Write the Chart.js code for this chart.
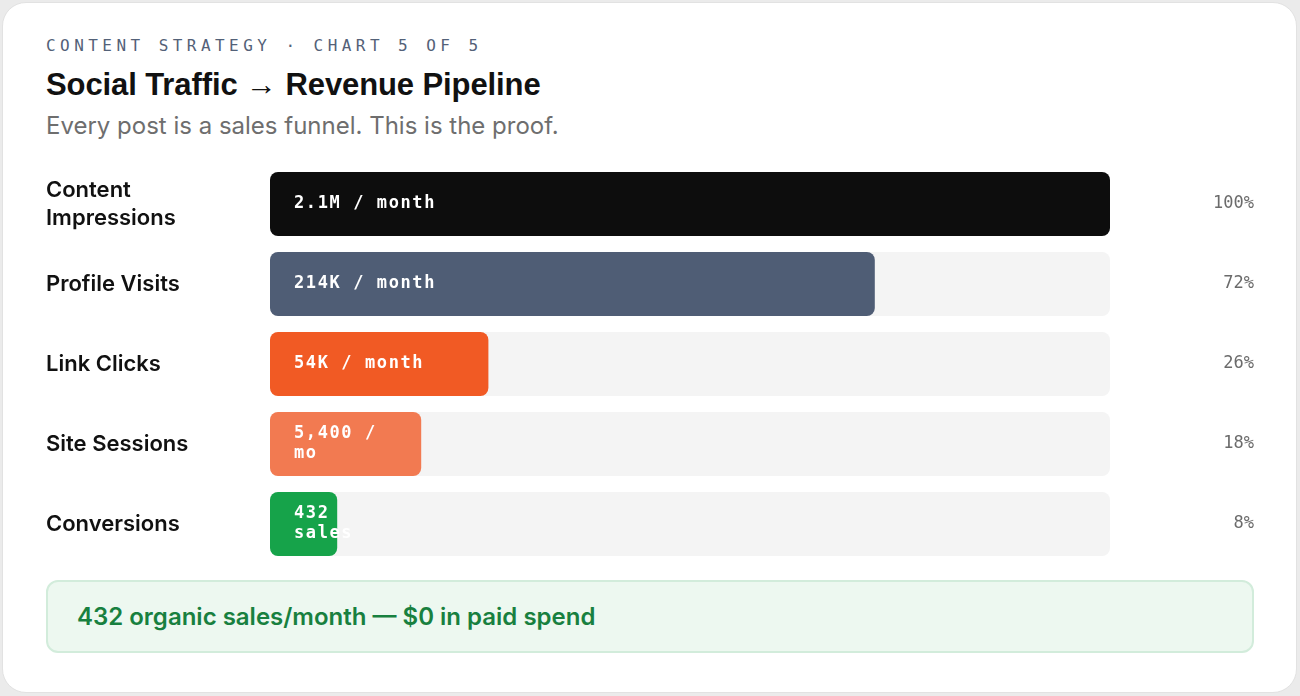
<!DOCTYPE html>
<html><head><meta charset="utf-8">
<script src="https://cdn.jsdelivr.net/npm/chart.js@4.4.1/dist/chart.umd.min.js"></script>
<style>
html,body{margin:0;padding:0;width:1300px;height:696px;background:#ebebeb;overflow:hidden;}
.card{position:absolute;left:2px;top:2px;width:1293px;height:689px;background:#fff;border:1px solid #e2e2e2;border-radius:24px;}
.eyebrow{position:absolute;left:46px;top:36px;font:16px 'DejaVu Sans Mono';letter-spacing:4.45px;color:#536178;line-height:20px;white-space:nowrap}
.title{position:absolute;left:46px;top:67px;font:bold 31px 'Liberation Sans';color:#111;line-height:36px;letter-spacing:-0.1px;white-space:nowrap}
.sub{position:absolute;left:46px;top:111px;font:400 24px 'Inter';color:#6e6e6e;line-height:30px;white-space:nowrap}
.chartbox{position:absolute;left:46px;top:164px;width:1208px;height:400px;}
.foot{position:absolute;left:46px;top:580px;width:1208px;height:73px;box-sizing:border-box;background:#edf8f0;border:2px solid #d2ecdb;border-radius:12px;padding-left:29px;display:flex;align-items:center;font:600 24px 'Inter';color:#18803f;white-space:nowrap}
</style>
</head>
<body>
<div class="card"></div>
<div class="eyebrow">CONTENT STRATEGY · CHART 5 OF 5</div>
<div class="title">Social Traffic → Revenue Pipeline</div>
<div class="sub">Every post is a sales funnel. This is the proof.</div>
<div class="chartbox"><canvas id="c"></canvas></div>
<div class="foot">432 organic sales/month — $0 in paid spend</div>
<script>
const categories = [['Content','Impressions'],'Profile Visits','Link Clicks','Site Sessions','Conversions'];
const sharePct = [100,72,26,18,8];
const trackPct = [100,100,100,100,100];
const valueLabels = ['2.1M / month','214K / month','54K / month','5,400 / mo','432 sales'];
const pctLabels = ['100%','72%','26%','18%','8%'];
const barColors = ['#0d0d0d','#4f5d75','#f15a24','#f27a51','#16a34a'];

const valueLabelPlugin = {
  id:'valueLabels',
  afterDatasetsDraw(chart){
    const ctx = chart.ctx;
    const meta = chart.getDatasetMeta(0);
    ctx.save();
    ctx.font = 'bold 17px "DejaVu Sans Mono"';
    try{ ctx.letterSpacing = '1.6px'; }catch(e){}
    ctx.fillStyle = '#ffffff';
    ctx.textBaseline = 'middle';
    ctx.textAlign = 'left';
    meta.data.forEach((bar,i)=>{
      const start = Math.min(bar.base, bar.x);
      const w = Math.abs(bar.x - bar.base);
      const maxW = w - 48;
      const words = valueLabels[i].split(' ');
      const lines = []; let cur = '';
      words.forEach(wd=>{
        const t = cur ? cur + ' ' + wd : wd;
        if (cur && ctx.measureText(t).width > maxW) { lines.push(cur); cur = wd; }
        else cur = t;
      });
      lines.push(cur);
      const lh = 20;
      lines.forEach((ln,k)=>ctx.fillText(ln, start + 24, bar.y + (k - (lines.length-1)/2) * lh));
    });
    ctx.restore();
  }
};

new Chart(document.getElementById('c'), {
  type:'bar',
  data:{
    labels: categories,
    datasets:[
      {data: sharePct, backgroundColor: barColors, borderRadius: 8, borderSkipped: false, grouped: false, barPercentage: 0.8, categoryPercentage: 1, order: 0},
      {data: trackPct, backgroundColor: '#f4f4f4', borderRadius: 8, borderSkipped: false, grouped: false, barPercentage: 0.8, categoryPercentage: 1, order: 1}
    ]
  },
  options:{
    indexAxis:'y',
    responsive:true,
    maintainAspectRatio:false,
    animation:false,
    layout:{padding:0},
    plugins:{legend:{display:false}, tooltip:{enabled:false}},
    scales:{
      x:{display:false, min:0, max:100},
      y:{
        position:'left',
        grid:{display:false}, border:{display:false},
        ticks:{crossAlign:'far', padding:0, color:'#111111', font:{family:'Inter', weight:'600', size:22, lineHeight:1.28}},
        afterFit(s){ s.width = 224; s.paddingTop = 0; s.paddingBottom = 0; }
      },
      y2:{
        type:'category', labels: pctLabels, position:'right', offset:true,
        grid:{display:false}, border:{display:false},
        ticks:{crossAlign:'far', padding:0, color:'#6b6b6b', font:{family:'DejaVu Sans Mono', size:17}},
        afterFit(s){ s.width = 144; s.paddingTop = 0; s.paddingBottom = 0; }
      }
    }
  },
  plugins:[valueLabelPlugin]
});
</script>
</body></html>
